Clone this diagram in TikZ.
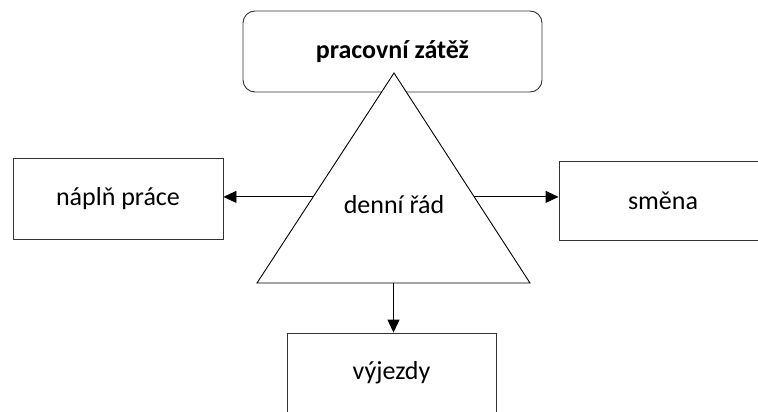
\documentclass[tikz,border=0pt]{standalone}
\usepackage{fontspec}
\setmainfont{Carlito}
\usepackage{tikz}
\usetikzlibrary{arrows.meta, calc, positioning}
\tikzset{
	% boxes
	box/.style={
		draw=black!80,
		line width=0.9pt,
		inner sep=0pt,
		font=\fontsize{26}{30}\selectfont
	}, %
	% arrows
	arr/.style={
		draw=black,
		line width=0.9pt,
		-{Triangle[length=13pt,width=12pt]}
	} %
}

\begin{document}
\begin{tikzpicture}[x=1pt,y=-1pt]
			\useasboundingbox (0,0) rectangle (758,412);
			\clip (0,0) rectangle (758,412);
			
			% boxes
			\node[box, rounded corners=12pt, minimum width=299pt, minimum height=81pt, font=\fontsize{26}{30}\selectfont\bfseries] (zatez) at (392.5,51.5) {pracovní zátěž};
			\node[box, minimum width=210pt, minimum height=81pt] (napln) at (118,198.5) {náplň práce};
			\node[box, minimum width=208pt, minimum height=79pt] (smena) at (663,200.5) {směna};
			\node[box, minimum width=209pt, minimum height=80pt] (vyjezdy) at (391.5,373) {výjezdy};
			
			% trojuhelnik
			\coordinate (A) at (394,73);
			\coordinate (B) at (257,283);
			\coordinate (C) at (530,283);
			\draw[fill=white, line width=0.9pt] (A)--(B)--(C)--cycle;
			\node[font=\fontsize{26}{30}\selectfont] (rad) at (394,205) {denní řád};
			
			% sipky
			\coordinate (L) at ($(A)!0.59!(B)$);
			\coordinate (R) at ($(A)!0.59!(C)$);
			\coordinate (D) at ($(B)!0.5!(C)$);
			\draw[arr] (L) -- (L -| napln.east);
			\draw[arr] (R) -- (R -| smena.west);
			\draw[arr] (D) -- (D |- vyjezdy.north);
		\end{tikzpicture}
\end{document}
